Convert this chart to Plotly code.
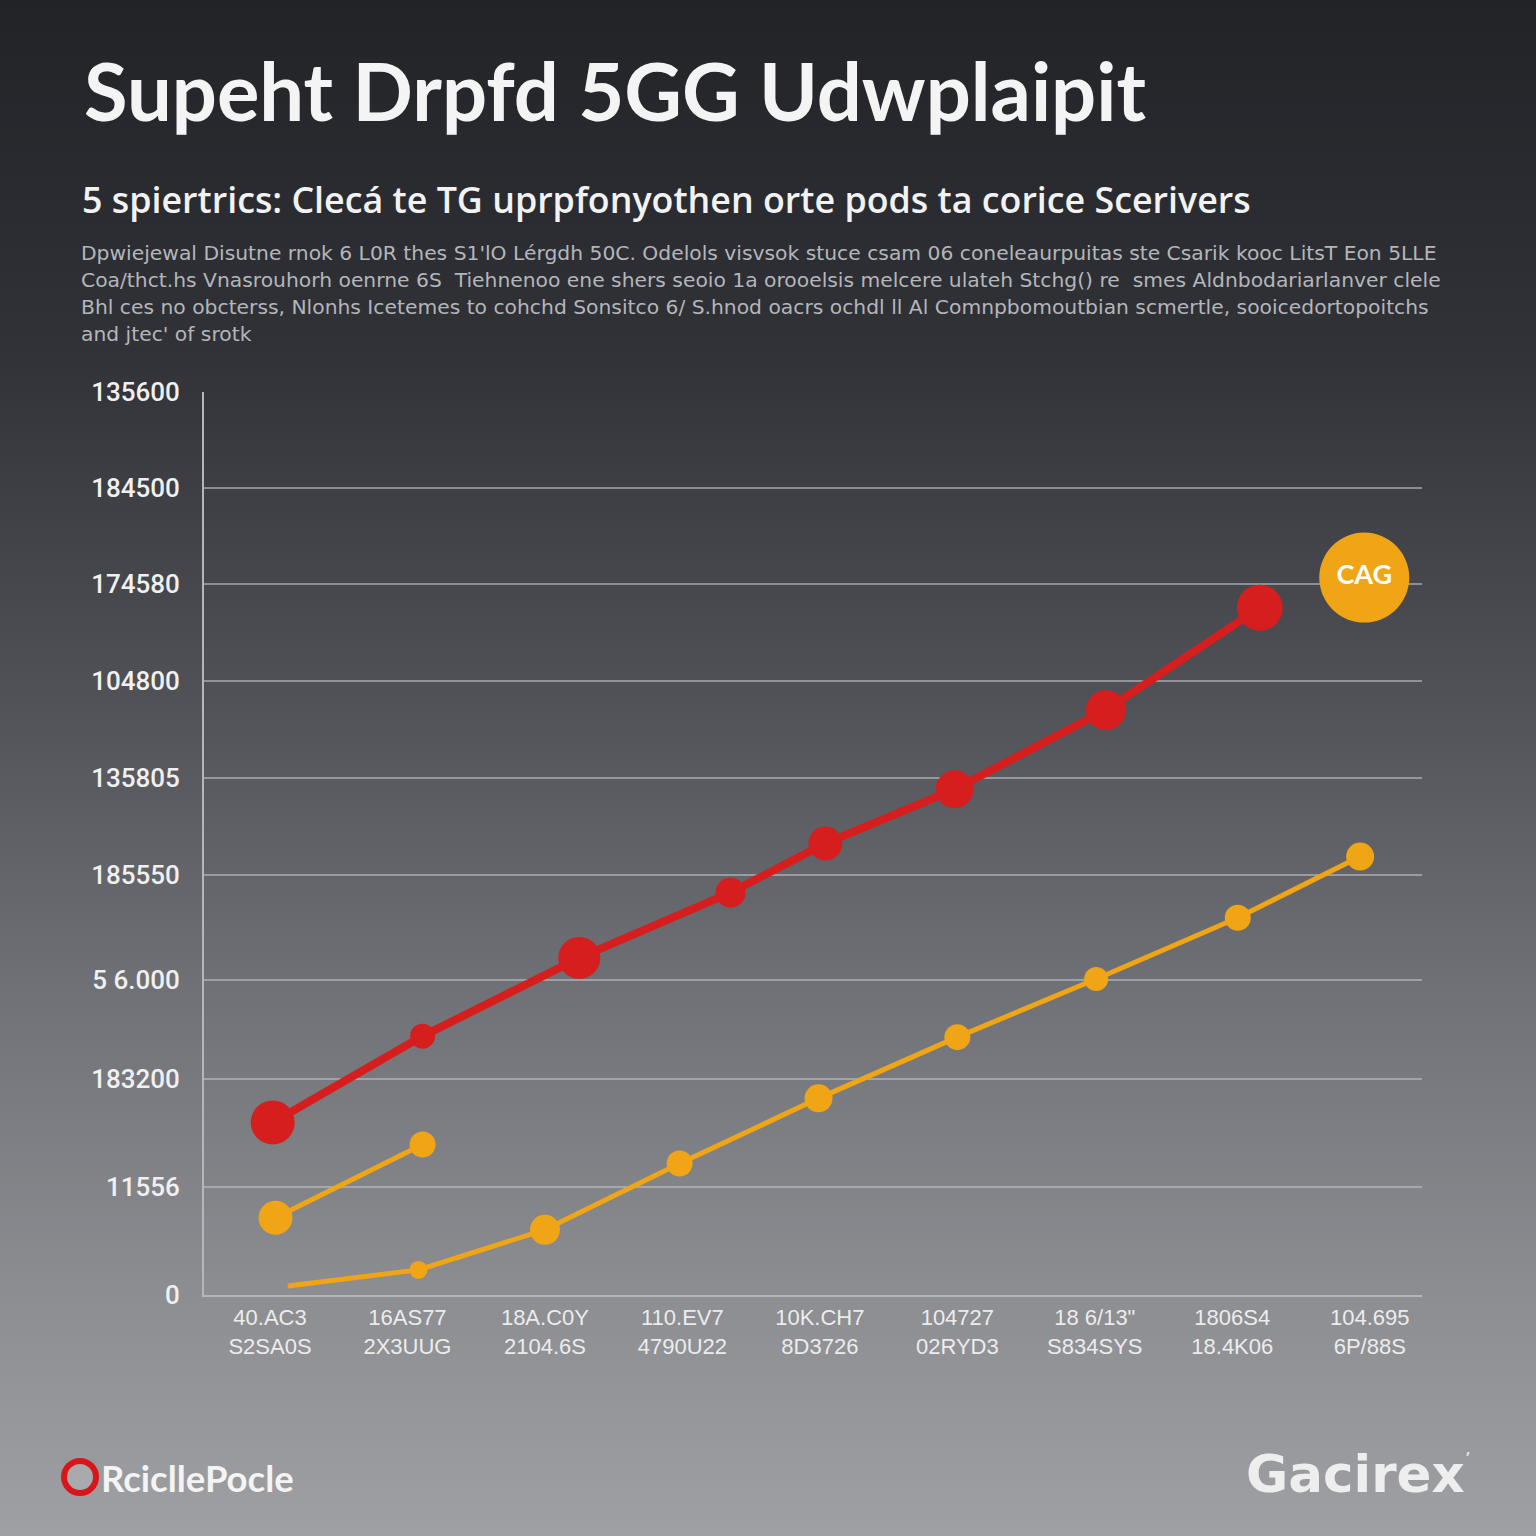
import plotly.graph_objects as go

# ---------------- data ----------------
x_tick_labels = ["40.AC3<br>S2SA0S", "16AS77<br>2X3UUG", "18A.C0Y<br>2104.6S",
                 "110.EV7<br>4790U22", "10K.CH7<br>8D3726", "104727<br>02RYD3",
                 "18 6/13\"<br>S834SYS", "1806S4<br>18.4K06", "104.695<br>6P/88S"]
x_tick_vals = [0, 1, 2, 3, 4, 5, 6, 7, 8]

y_tick_labels = ["0", "11556", "183200", "5 6.000", "185550", "135805",
                 "104800", "174580", "184500", "135600"]
y_tick_vals = [0, 1.08, 2.15, 3.14, 4.19, 5.15, 6.12, 7.09, 8.04, 9.0]

red_x = [0.02, 1.11, 2.25, 3.35, 4.04, 4.98, 6.08, 7.2]
red_y = [1.72, 2.58, 3.36, 4.01, 4.5, 5.04, 5.83, 6.85]
red_size = [44, 25, 42, 30, 34, 38, 40, 46]

orange_short_x = [0.04, 1.11]
orange_short_y = [0.77, 1.5]
orange_short_size = [34, 26]

orange_x = [0.13, 1.08, 2.0, 2.98, 3.99, 5.0, 6.01, 7.04, 7.93]
orange_y = [0.09, 0.25, 0.65, 1.31, 1.96, 2.57, 3.15, 3.76, 4.37]
orange_size = [1, 18, 30, 26, 28, 26, 24, 26, 28]

badge_x = [7.96]
badge_y = [7.15]
badge_text = ["CAG"]

title = "Supeht Drpfd 5GG Udwplaipit"
subtitle = "5 spiertrics: Clecá te TG uprpfonyothen orte pods ta corice Scerivers"
desc_lines = [
    "Dpwiejewal Disutne rnok 6 L0R thes S1'lO Lérgdh 50C. Odelols visvsok stuce csam 06 coneleaurpuitas ste Csarik kooc LitsT Eon 5LLE",
    "Coa/thct.hs Vnasrouhorh oenrne 6S  Tiehnenoo ene shers seoio 1a orooelsis melcere ulateh Stchg() re  smes Aldnbodariarlanver clele",
    "Bhl ces no obcterss, Nlonhs Icetemes to cohchd Sonsitco 6/ S.hnod oacrs ochdl ll Al Comnpbomoutbian scmertle, sooicedortopoitchs",
    "and jtec' of srotk",
]
logo_left = "RcicllePocle"
logo_right = "Gacirex"

RED = "#D61E1E"
ORANGE = "#EFA515"

# ---------------- layout geometry ----------------
W = H = 1536
L, R, T, B = 204, 1422, 392, 1295


def px(xp):
    return (xp - L) / (R - L)


def py(yp):
    return (B - yp) / (B - T)


fig = go.Figure()

fig.add_trace(go.Scatter(x=orange_x, y=orange_y, mode="lines+markers",
                         line=dict(color=ORANGE, width=5),
                         marker=dict(size=orange_size, color=ORANGE, opacity=1, line=dict(width=0)),
                         cliponaxis=False, hoverinfo="skip"))
fig.add_trace(go.Scatter(x=orange_short_x, y=orange_short_y, mode="lines+markers",
                         line=dict(color=ORANGE, width=5),
                         marker=dict(size=orange_short_size, color=ORANGE, opacity=1, line=dict(width=0)),
                         cliponaxis=False, hoverinfo="skip"))
fig.add_trace(go.Scatter(x=red_x, y=red_y, mode="lines+markers",
                         line=dict(color=RED, width=8),
                         marker=dict(size=red_size, color=RED, opacity=1, line=dict(width=0)),
                         cliponaxis=False, hoverinfo="skip"))
fig.add_trace(go.Scatter(x=badge_x, y=badge_y, mode="markers+text", text=badge_text,
                         textposition="middle center",
                         textfont=dict(family="Lato", size=27, color="white", weight="bold"),
                         marker=dict(size=90, color=ORANGE, opacity=1, line=dict(width=0)),
                         cliponaxis=False, hoverinfo="skip"))

# background gradient bands
stops = [(0, (33, 35, 39)), (350, (48, 50, 55)), (700, (80, 82, 87)),
         (1000, (112, 114, 119)), (1300, (140, 142, 146)), (1536, (158, 160, 164))]


def col_at(y):
    for (y0, c0), (y1, c1) in zip(stops[:-1], stops[1:]):
        if y0 <= y <= y1:
            t = (y - y0) / (y1 - y0)
            return tuple(round(a + (b - a) * t) for a, b in zip(c0, c1))
    return stops[-1][1]


shapes = []
step = 8
for y0 in range(0, H, step):
    c = col_at(y0 + step / 2)
    shapes.append(dict(type="rect", xref="paper", yref="paper", layer="below",
                       x0=px(0), x1=px(W), y0=py(y0 + step + 1), y1=py(y0),
                       fillcolor="rgb(%d,%d,%d)" % c, line=dict(width=0)))

# logo ring
shapes.append(dict(type="circle", xref="paper", yref="paper", layer="above",
                   x0=px(64), x1=px(96), y0=py(1493), y1=py(1461),
                   fillcolor="#A8AAAD", line=dict(color="#D8161A", width=6)))

annotations = []
annotations.append(dict(text="<b>" + title + "</b>", x=px(82), y=py(90), xref="paper", yref="paper",
                        xanchor="left", yanchor="middle", showarrow=False,
                        font=dict(family="Lato", size=79.5, color="#F4F4F4")))
annotations.append(dict(text=subtitle, x=px(80), y=py(199), xref="paper", yref="paper",
                        xanchor="left", yanchor="middle", showarrow=False,
                        font=dict(family="Open Sans", size=35.8, color="#F2F2F2", weight=600)))
for i, line in enumerate(desc_lines):
    annotations.append(dict(text=line, x=px(79), y=py(253 + 27 * i), xref="paper", yref="paper",
                            xanchor="left", yanchor="middle", showarrow=False,
                            font=dict(family="DejaVu Sans", size=20.3, color="#B4B6BA")))
annotations.append(dict(text="<b>" + logo_left + "</b>", x=px(99), y=py(1478), xref="paper", yref="paper",
                        xanchor="left", yanchor="middle", showarrow=False,
                        font=dict(family="Lato", size=36.5, color="#F4F4F4")))
annotations.append(dict(text="<b>" + logo_right + "</b>", x=px(1244), y=py(1474), xref="paper",
                        yref="paper", xanchor="left", yanchor="middle", showarrow=False,
                        font=dict(family="DejaVu Sans", size=51.5, color="#EEEEEE")))
annotations.append(dict(text="’", x=px(1468), y=py(1458), xref="paper",
                        yref="paper", xanchor="center", yanchor="middle", showarrow=False,
                        font=dict(family="DejaVu Sans", size=18, color="#EEEEEE")))

fig.update_layout(
    width=W, height=H,
    margin=dict(l=L, r=W - R, t=T, b=H - B),
    paper_bgcolor="#5A5C60", plot_bgcolor="rgba(0,0,0,0)",
    showlegend=False,
    shapes=shapes, annotations=annotations,
    xaxis=dict(range=[-0.48, 8.38], tickvals=x_tick_vals, ticktext=x_tick_labels,
               showgrid=False, zeroline=False, showline=True, linecolor="#B4B6B9", linewidth=2,
               ticks="outside", ticklen=2, tickcolor="rgba(0,0,0,0)",
               tickfont=dict(family="Liberation Sans", size=22, color="#ECECEC")),
    yaxis=dict(range=[0, 9], tickvals=y_tick_vals, ticktext=y_tick_labels,
               showgrid=True, gridcolor="rgba(190,192,196,0.6)", gridwidth=1.5,
               zeroline=False, showline=True, linecolor="#B4B6B9", linewidth=2,
               ticks="outside", ticklen=17, tickcolor="rgba(0,0,0,0)",
               tickfont=dict(family="Roboto", size=26, color="#F0F0F0", weight=500)),
)

fig.write_html("out.html", config={"displayModeBar": False},
               post_script="document.body.style.margin='0';")
